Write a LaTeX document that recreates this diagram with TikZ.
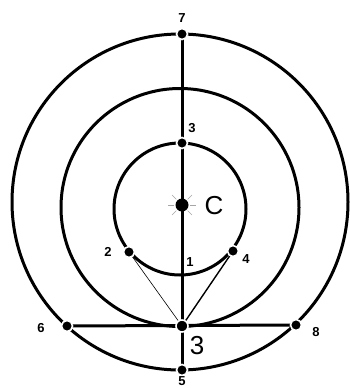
\documentclass[tikz,border=0pt]{standalone}
\usepackage{fontspec}
\setmainfont{Liberation Sans}
\usetikzlibrary{backgrounds}
\begin{document}
\begin{tikzpicture}[x=1pt,y=-1pt,
  ring/.style={draw=black,line width=3pt},
  heavy/.style={draw=black,line width=3pt},
  medium/.style={draw=black,line width=1.4pt},
  fine/.style={draw=black,line width=0.6pt},
  dot/.style={circle,fill=black,draw=white,line width=1.6pt,inner sep=0pt,minimum size=11pt},
  bigdot/.style={circle,fill=black,inner sep=0pt,minimum size=13pt},
  lab/.style={font=\bfseries\fontsize{13}{13}\selectfont,inner sep=0pt},
  biglab/.style={font=\fontsize{26}{26}\selectfont,inner sep=0pt}]
\useasboundingbox (0,0) rectangle (349,388);
% points
\node[dot] (p7) at (182,34) {};
\node[dot] (p5) at (182,370) {};
\node[dot] (p3t) at (182,143) {};
\node[bigdot] (pc) at (182,205) {};
\node[dot,minimum size=12pt] (p3b) at (182,326) {};
\node[dot] (p6) at (67,326) {};
\node[dot] (p8) at (296,325) {};
\node[dot] (p2) at (129,252) {};
\node[dot] (p4) at (233,251) {};
\begin{pgfonlayer}{background}
\fill[white] (0,0) rectangle (349,388);
% rings
\draw[ring] (180,209) circle[radius=66];
\draw[ring] (180,207.5) circle[radius=119];
\draw[ring] (180,202) circle[radius=168];
% star rays
\foreach \a in {0,45,...,315}
  \draw[gray!70,line width=0.6pt] (pc.center) ++(\a:8) -- ++(\a:6);
% connectors
\draw[heavy] (p7.center) -- (p5.center);
\draw[heavy] (p6.center) -- (p8.center);
\draw[fine] (p2.center) -- (p3b.center);
\draw[medium] (p4.center) -- (p3b.center);
\end{pgfonlayer}
% labels
\node[lab] (l7) at (182,18) {7};
\node[lab] (l3t) at (192,128) {3};
\node[lab] (l1) at (190,262) {1};
\node[lab] (l2) at (108,252) {2};
\node[lab] (l4) at (246,259) {4};
\node[lab] (l6) at (41,328) {6};
\node[lab] (l8) at (316,332) {8};
\node[lab] (l5) at (182,381) {5};
\node[biglab] (lc) at (214,206) {C};
\node[biglab] (l3b) at (197,346) {3};
\end{tikzpicture}
\end{document}
